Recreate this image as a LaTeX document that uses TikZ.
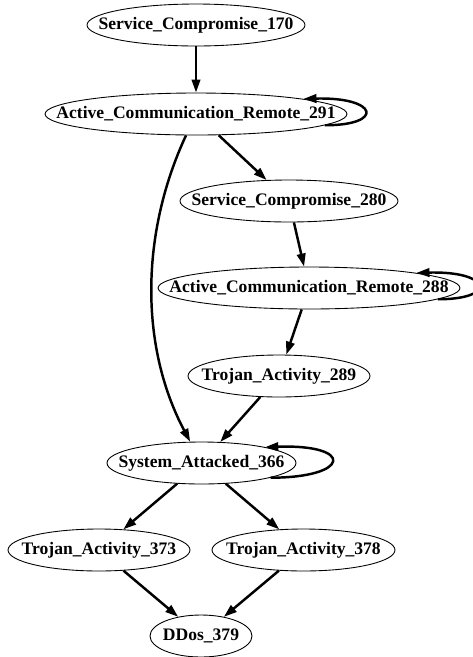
\documentclass[tikz,border=0pt]{standalone}
\usepackage{fontspec}
\setmainfont{Liberation Serif}
\usetikzlibrary{shapes.geometric,arrows.meta}
\newcommand{\lbl}[1]{\makebox[0pt]{#1}}

\begin{document}
\begin{tikzpicture}
  [
    x=0.02cm, y=0.02cm,
    state/.style={ellipse, draw=black, line width=0.5pt, inner sep=0pt,
      minimum height=0.84cm, font=\fontsize{10}{12}\selectfont\bfseries},
    ld/.style={draw=black, line width=1.4pt,
      -{Triangle[length=0.26cm,width=0.17cm]}}
  ]
  \useasboundingbox (0,0) rectangle (473,-657);
  \node (sc170) at (196,-25) [state, minimum width=4.36cm] {\lbl{Service\_Compromise\_170}};
  \node (acr291) at (196,-114) [state, minimum width=6.04cm] {\lbl{Active\_Communication\_Remote\_291}};
  \node (sc280) at (289,-201) [state, minimum width=4.36cm] {\lbl{Service\_Compromise\_280}};
  \node (acr288) at (309,-288) [state, minimum width=6.04cm] {\lbl{Active\_Communication\_Remote\_288}};
  \node (ta289) at (279,-376) [state, minimum width=3.64cm] {\lbl{Trojan\_Activity\_289}};
  \node (sa366) at (201.5,-463) [state, minimum width=3.78cm] {\lbl{System\_Attacked\_366}};
  \node (ta373) at (99,-550) [state, minimum width=3.64cm] {\lbl{Trojan\_Activity\_373}};
  \node (ta378) at (303.5,-550) [state, minimum width=3.66cm] {\lbl{Trojan\_Activity\_378}};
  \node (dd379) at (201,-636) [state, minimum width=2.04cm] {\lbl{DDos\_379}};

  \draw [ld] (sc170) -- (acr291);
  \draw [ld] (acr291) -- (sc280);
  \draw [ld] (acr291) to[out=-115,in=118,looseness=0.9] (sa366);
  \draw [ld] (sc280) -- (acr288);
  \draw [ld] (acr288) -- (ta289);
  \draw [ld] (ta289) -- (sa366);
  \draw [ld] (sa366) -- (ta373);
  \draw [ld] (sa366) -- (ta378);
  \draw [ld] (ta373) -- (dd379);
  \draw [ld] (ta378) -- (dd379);

  \draw [ld] (acr291.-5) .. controls +(60,0) and +(75,2) .. (acr291.8);
  \draw [ld] (acr288.-5) .. controls +(60,0) and +(75,2) .. (acr288.8);
  \draw [ld] (sa366.-12) .. controls +(80,0) and +(90,3) .. (sa366.14);
\end{tikzpicture}
\end{document}
